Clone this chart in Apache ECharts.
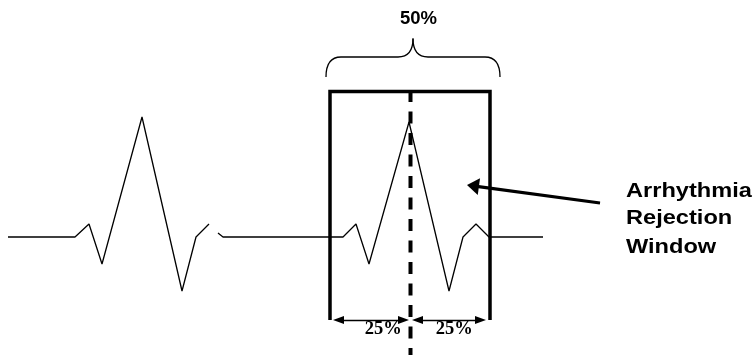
<!DOCTYPE html>
<html>
<head>
<meta charset="utf-8">
<script src="https://cdn.jsdelivr.net/npm/echarts@6/dist/echarts.min.js"></script>
<style>
  html, body { margin: 0; padding: 0; background: #fff; }
  #chart { width: 753px; height: 355px; }
</style>
</head>
<body>
<div id="chart"></div>
<script>
// ---- data ----
const beatTime1 = [8, 75, 89, 102, 142, 182, 196, 209];
const beatAmp1  = [0, 0, 13, -27, 120, -54, 0, 13];
const beatTime2 = [218, 223, 343, 356, 369, 409, 449, 463, 476, 489, 543];
const beatAmp2  = [4, 0, 0, 13, -27, 115, -54, 0, 13, 0, 0];
const windowTime = [330, 490];          // left / right edge of the rejection window
const windowCenter = 410.5;             // R-peak reference
const spanLabels = ['50%', '25%', '25%'];
const windowLabelLines = ['Arrhythmia', 'Rejection', 'Window'];

// ---- layout (annotation geometry, in axis units) ----
const L = {
  top: 145.5, bottom: -83, arrowY: -83,
  braceEnds: 160, braceLevel: 180, braceTip: 198.5, braceCenter: 413, braceR: 15,
  pointerTail: [600, 34], pointerTip: [467, 52]
};

function zip(xs, ys) { return xs.map((x, i) => [x, ys[i]]); }
function shorten(from, to, headLen) {
  const dx = to[0] - from[0], dy = to[1] - from[1];
  const d = Math.sqrt(dx * dx + dy * dy);
  return [to[0] - dx / d * headLen / 2, to[1] - dy / d * headLen / 2];
}

const black = '#000';
const thinLine = { color: black, width: 1.3 };

const smallHead = 11;
const leftA = [windowTime[0] + 3, L.arrowY], midA = [windowCenter - 1.5, L.arrowY];
const midB = [windowCenter + 1.5, L.arrowY], rightB = [windowTime[1] - 4, L.arrowY];

const chart = echarts.init(document.getElementById('chart'), null, { renderer: 'canvas' });
chart.setOption({
  animation: false,
  backgroundColor: '#fff',
  grid: { left: 0, right: 0, top: 0, bottom: 0 },
  xAxis: { type: 'value', min: 0, max: 753, show: false },
  yAxis: { type: 'value', min: -118, max: 237, show: false },
  series: [
    { type: 'line', data: zip(beatTime1, beatAmp1), symbol: 'none', clip: false,
      lineStyle: thinLine, silent: true },
    { type: 'line', data: zip(beatTime2, beatAmp2), symbol: 'none', clip: false,
      lineStyle: thinLine, silent: true },
    { type: 'line', symbol: 'none', clip: false, silent: true,
      data: [[windowTime[0], L.bottom], [windowTime[0], L.top], [windowTime[1], L.top], [windowTime[1], L.bottom]],
      lineStyle: { color: black, width: 3.5, join: 'miter', cap: 'butt' },
      markLine: {
        silent: true, animation: false,
        label: { show: false },
        symbol: ['triangle', 'triangle'],
        symbolSize: [8, smallHead],
        lineStyle: { type: 'solid', color: black, width: 1.4 },
        emphasis: { disabled: true },
        data: [
          [{ coord: shorten(midA, leftA, smallHead) }, { coord: shorten(leftA, midA, smallHead) }],
          [{ coord: shorten(rightB, midB, smallHead) }, { coord: shorten(midB, rightB, smallHead) }],
          [{ coord: L.pointerTail, symbol: 'none' },
           { coord: shorten(L.pointerTail, L.pointerTip, 12), symbol: 'triangle', symbolSize: [17, 12] }]
        ]
      }
    },
    { type: 'line', symbol: 'none', clip: false, silent: true,
      data: [[windowCenter, L.top + 1.5], [windowCenter, -118]],
      lineStyle: { color: black, width: 4, type: [12, 9.5], cap: 'butt' } },
    { type: 'line', data: [], markLine: { silent: true, animation: false, symbol: 'none',
        label: { show: false }, lineStyle: { type: 'solid', color: black, width: 3.2 },
        data: [[{ coord: L.pointerTail }, { coord: shorten(L.pointerTail, L.pointerTip, 12) }]] } },
    { type: 'custom', silent: true, clip: false, data: [[0]],
      renderItem: function (params, api) {
        const P = (x, y) => api.coord([x, y]);
        const style = { stroke: black, lineWidth: 1.3, fill: null };
        const a = P(windowTime[0] - 4, L.braceEnds), a1 = P(windowTime[0] - 4, L.braceLevel), a2 = P(windowTime[0] - 4 + L.braceR, L.braceLevel);
        const m1 = P(L.braceCenter - L.braceR, L.braceLevel), mc = P(L.braceCenter, L.braceLevel), mt = P(L.braceCenter, L.braceTip);
        const m2 = P(L.braceCenter + L.braceR, L.braceLevel);
        const b2 = P(windowTime[1] + 10 - L.braceR, L.braceLevel), b1 = P(windowTime[1] + 10, L.braceLevel), b = P(windowTime[1] + 10, L.braceEnds);
        return { type: 'group', children: [
          { type: 'bezierCurve', shape: { x1: a[0], y1: a[1], cpx1: a1[0], cpy1: a1[1], x2: a2[0], y2: a2[1] }, style },
          { type: 'line', shape: { x1: a2[0], y1: a2[1], x2: m1[0], y2: m1[1] }, style },
          { type: 'bezierCurve', shape: { x1: m1[0], y1: m1[1], cpx1: mc[0], cpy1: mc[1], x2: mt[0], y2: mt[1] }, style },
          { type: 'bezierCurve', shape: { x1: m2[0], y1: m2[1], cpx1: mc[0], cpy1: mc[1], x2: mt[0], y2: mt[1] }, style },
          { type: 'line', shape: { x1: m2[0], y1: m2[1], x2: b2[0], y2: b2[1] }, style },
          { type: 'bezierCurve', shape: { x1: b2[0], y1: b2[1], cpx1: b1[0], cpy1: b1[1], x2: b[0], y2: b[1] }, style }
        ]};
      }
    }
  ]
});

function txt(text, x, y, family, size, align, scaleX) {
  return { type: 'text', x: x, y: y, scaleX: scaleX || 1, silent: true,
    style: { text: text, fontFamily: family, fontSize: size, fontWeight: 'bold',
      fill: black, align: align, verticalAlign: 'middle', legacy: false } };
}
const serif = '"Liberation Serif", "Times New Roman", serif';
const sans = '"Liberation Sans", Arial, sans-serif';
chart.setOption({
  graphic: [
    txt(spanLabels[0], 418.5, 19, sans, 18.5, 'center'),
    txt(spanLabels[1], 383.3, 329.7, serif, 18.5, 'center'),
    txt(spanLabels[2], 454.3, 329.7, serif, 18.5, 'center'),
    txt(windowLabelLines[0], 626, 191.3, sans, 20, 'left', 1.18),
    txt(windowLabelLines[1], 626, 218.3, sans, 20, 'left', 1.18),
    txt(windowLabelLines[2], 626, 247.5, sans, 20, 'left', 1.18)
  ]
});
</script>
</body>
</html>
